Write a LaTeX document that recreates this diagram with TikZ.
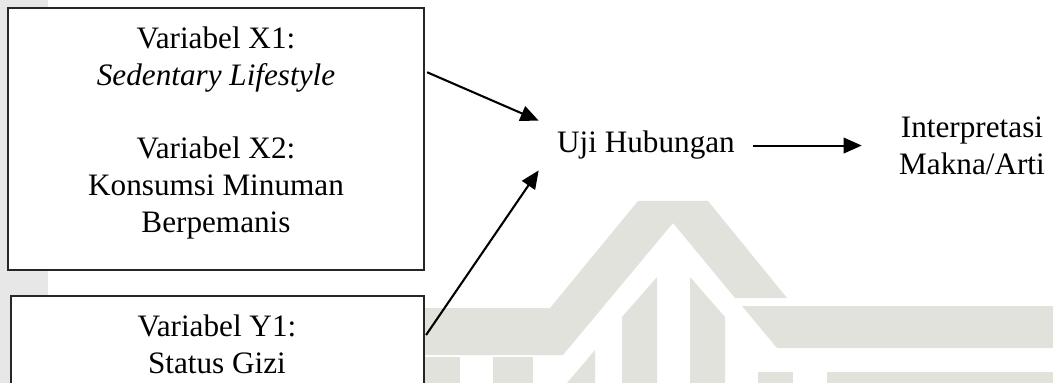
\documentclass[tikz,border=0pt]{standalone}
\usepackage{fontspec}
\setmainfont{Liberation Serif}
\usepackage{xcolor}
\usetikzlibrary{arrows.meta,positioning,calc}
\definecolor{wmgray}{HTML}{E1E2DC}
\definecolor{stripgray}{HTML}{E7E7E7}

\begin{document}
\begin{tikzpicture}[
    x=0.3846pt, y=-0.3846pt,
    font=\fontsize{12pt}{14.2pt}\selectfont,
    varbox/.style={draw=black!85, line width=0.5pt, fill=white, inner sep=0pt},
    txt/.style={align=center, inner sep=0pt},
    arr/.style={-{Triangle[length=7pt, width=6pt]}, line width=0.8pt}
]
\clip (0,0) rectangle (1053,383);

\fill[stripgray] (0,0) rectangle (48,383);
\fill[wmgray] (420,308) -- (550,308) -- (638,201) -- (708,201) -- (787,298)
  -- (735,298) -- (673,223) -- (563,355) -- (420,355) -- cycle;
\fill[wmgray] (742,306) -- (1053,306) -- (1053,348) -- (777,348) -- cycle;
\fill[wmgray] (622,317) -- (657,277) -- (657,383) -- (622,383) -- cycle;
\fill[wmgray] (690,277) -- (725,317) -- (725,383) -- (690,383) -- cycle;
\fill[wmgray] (595,350) -- (595,383) -- (567,383) -- cycle;
\foreach \xa/\xb/\ya in {420/460/357,493/533/357,758/793/372,827/1053/372}
  \fill[wmgray] (\xa,\ya) rectangle (\xb,383);

\node[varbox, minimum width=160pt, minimum height=100.8pt] (x1) at (216,139) {};
\node[varbox, minimum width=158.8pt, minimum height=40pt] (x2) at (217.5,348) {};

\node[txt, anchor=north] (x1txt) at (216,26)
  {Variabel X1:\\ \textit{Sedentary Lifestyle}\\[14.2pt] Variabel X2:\\ Konsumsi Minuman\\ Berpemanis};
\node[txt, anchor=north] (x2txt) at (217,314) {Variabel Y1:\\ Status Gizi};

\node[anchor=base, inner xsep=6.9pt, inner ysep=3.9pt] (uji) at (646,153) {Uji Hubungan};
\node[txt, anchor=north] (interp) at (972,116) {Interpretasi\\ Makna/Arti};

\draw[arr, shorten <=1pt] (x1.18) -- (uji.north west);
\draw[arr, shorten <=1pt] (x2.3) -- (uji.south west);
\draw[arr, shorten >=14.2pt] (uji.east) -- (uji.east -| interp.west);
\end{tikzpicture}
\end{document}
